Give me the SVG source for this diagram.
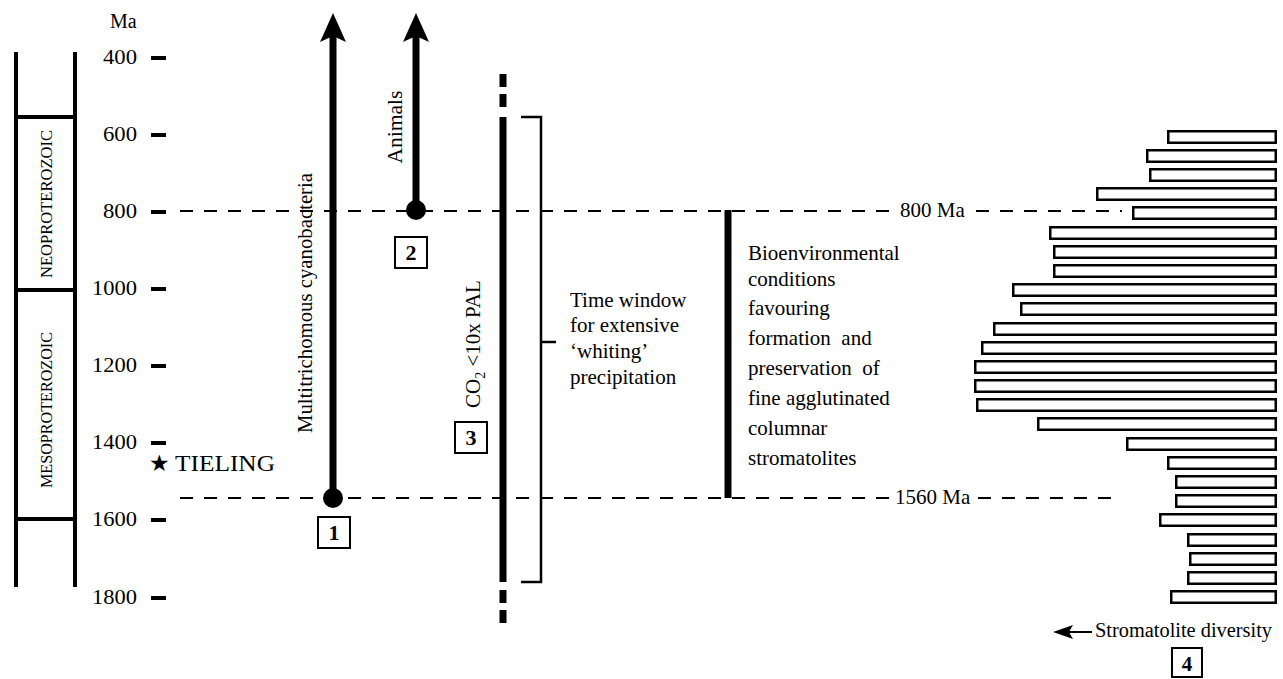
<svg xmlns="http://www.w3.org/2000/svg" width="1283" height="679" viewBox="0 0 1283 679">
<style>
text{font-family:"Liberation Serif","Times New Roman",serif;fill:#000}
.num{font-size:20px;text-anchor:end}
.lbl{font-size:21px}
.era{font-size:17px;text-anchor:middle}
.thin{stroke:#000;stroke-width:4;fill:none}
.tick{stroke:#000;stroke-width:4}
.dash{stroke:#000;stroke-width:2;stroke-dasharray:13 11;fill:none}
.bar{fill:#fff;stroke:#000;stroke-width:2.5}
.box{fill:#fff;stroke:#000;stroke-width:2}
.boxnum{font-size:22px;font-weight:bold;text-anchor:middle}
.shaft{stroke:#000;stroke-width:7}
</style>

<g id="timescale">
  <line class="thin" x1="16" y1="52" x2="16" y2="587"/>
  <line class="thin" x1="75" y1="52" x2="75" y2="587"/>
  <line class="thin" x1="16" y1="117" x2="75" y2="117"/>
  <line class="thin" x1="16" y1="290" x2="75" y2="290"/>
  <line class="thin" x1="16" y1="519" x2="75" y2="519"/>
  <text class="era" transform="translate(52,204) rotate(-90)" textLength="148" lengthAdjust="spacingAndGlyphs">NEOPROTEROZOIC</text>
  <text class="era" transform="translate(52,410) rotate(-90)" textLength="156" lengthAdjust="spacingAndGlyphs">MESOPROTEROZOIC</text>
</g>

<g id="axis">
  <text x="110" y="28" font-size="20">Ma</text>
  <text class="num" x="137" y="64" textLength="34" lengthAdjust="spacingAndGlyphs">400</text>
  <text class="num" x="137" y="141" textLength="34" lengthAdjust="spacingAndGlyphs">600</text>
  <text class="num" x="137" y="218" textLength="34" lengthAdjust="spacingAndGlyphs">800</text>
  <text class="num" x="137" y="295" textLength="45" lengthAdjust="spacingAndGlyphs">1000</text>
  <text class="num" x="137" y="372" textLength="45" lengthAdjust="spacingAndGlyphs">1200</text>
  <text class="num" x="137" y="449" textLength="45" lengthAdjust="spacingAndGlyphs">1400</text>
  <text class="num" x="137" y="526" textLength="45" lengthAdjust="spacingAndGlyphs">1600</text>
  <text class="num" x="137" y="604" textLength="45" lengthAdjust="spacingAndGlyphs">1800</text>
  <line class="tick" x1="151" y1="58" x2="166" y2="58"/>
  <line class="tick" x1="151" y1="135" x2="166" y2="135"/>
  <line class="tick" x1="151" y1="212" x2="166" y2="212"/>
  <line class="tick" x1="151" y1="289" x2="166" y2="289"/>
  <line class="tick" x1="151" y1="366" x2="166" y2="366"/>
  <line class="tick" x1="151" y1="443" x2="166" y2="443"/>
  <line class="tick" x1="151" y1="520" x2="166" y2="520"/>
  <line class="tick" x1="151" y1="598" x2="166" y2="598"/>
</g>

<g id="tieling">
  <text x="149" y="471" font-family="DejaVu Sans, sans-serif" font-size="23">★</text>
  <text x="175" y="471" font-size="23" textLength="100" lengthAdjust="spacingAndGlyphs">TIELING</text>
</g>

<g id="connectors">
  <line class="dash" x1="180" y1="211" x2="892" y2="211"/>
  <line class="dash" x1="976" y1="211" x2="1122" y2="211"/>
  <line class="dash" x1="180" y1="498" x2="892" y2="498"/>
  <line class="dash" x1="978" y1="498" x2="1122" y2="498"/>
  <line x1="1092" y1="632" x2="1068" y2="632" stroke="#000" stroke-width="2"/>
  <polygon points="1053,632 1073,625 1069,632 1073,639" fill="#000"/>
</g>

<g id="ref-labels">
  <text class="lbl" x="900" y="217">800 Ma</text>
  <text class="lbl" x="895" y="504">1560 Ma</text>
</g>

<g id="node-1">
  <line class="shaft" x1="333" y1="36" x2="333" y2="498"/>
  <polygon points="333,13 346,42 333,36 320,42" fill="#000"/>
  <circle cx="333" cy="498" r="10" fill="#000"/>
  <text class="lbl" transform="translate(312,303) rotate(-90)" text-anchor="middle" textLength="260" lengthAdjust="spacingAndGlyphs">Multitrichomous cyanobacteria</text>
  <rect class="box" x="318" y="517" width="32" height="31"/>
  <text class="boxnum" x="334" y="540">1</text>
</g>

<g id="node-2">
  <line class="shaft" x1="416" y1="36" x2="416" y2="210"/>
  <polygon points="416,13 429,42 416,36 403,42" fill="#000"/>
  <circle cx="416" cy="210" r="10" fill="#000"/>
  <text class="lbl" transform="translate(402,127) rotate(-90)" text-anchor="middle" textLength="73" lengthAdjust="spacingAndGlyphs">Animals</text>
  <rect class="box" x="395" y="237" width="32" height="31"/>
  <text class="boxnum" x="411" y="260">2</text>
</g>

<g id="node-3">
  <line class="shaft" x1="503" y1="74" x2="503" y2="87"/>
  <line class="shaft" x1="503" y1="94" x2="503" y2="107"/>
  <line class="shaft" x1="503" y1="117" x2="503" y2="582"/>
  <line class="shaft" x1="503" y1="590" x2="503" y2="603"/>
  <line class="shaft" x1="503" y1="610" x2="503" y2="623"/>
  <text class="lbl" transform="translate(480,408) rotate(-90)">CO<tspan font-size="14" dy="5">2</tspan><tspan dy="-5"> &lt;10x PAL</tspan></text>
  <rect class="box" x="455" y="422" width="32" height="31"/>
  <text class="boxnum" x="471" y="445">3</text>
</g>

<g id="whiting">
  <path d="M521,117 H541 V582 H521 M541,342 H556" fill="none" stroke="#000" stroke-width="2.5"/>
  <text class="lbl" x="570" y="307">Time window</text>
  <text class="lbl" x="570" y="332">for extensive</text>
  <text class="lbl" x="570" y="358">‘whiting’</text>
  <text class="lbl" x="570" y="384">precipitation</text>
</g>

<g id="bioenvironmental">
  <line class="shaft" x1="728" y1="210" x2="728" y2="498"/>
  <text class="lbl" x="748" y="260" font-size="20">Bioenvironmental</text>
  <text class="lbl" x="748" y="286" font-size="20">conditions</text>
  <text class="lbl" x="748" y="315" font-size="20">favouring</text>
  <text class="lbl" x="748" y="345" font-size="20" xml:space="preserve">formation  and</text>
  <text class="lbl" x="748" y="375" font-size="20" xml:space="preserve">preservation  of</text>
  <text class="lbl" x="748" y="405" font-size="20">fine agglutinated</text>
  <text class="lbl" x="748" y="435" font-size="20">columnar</text>
  <text class="lbl" x="748" y="465" font-size="20">stromatolites</text>
</g>

<g id="node-4">
  <rect class="bar" x="1168.25" y="131.25" width="107.5" height="11.5"/>
  <rect class="bar" x="1147.25" y="150.25" width="128.5" height="11.5"/>
  <rect class="bar" x="1150.25" y="169.25" width="125.5" height="11.5"/>
  <rect class="bar" x="1097.25" y="188.25" width="178.5" height="11.5"/>
  <rect class="bar" x="1133.25" y="207.25" width="142.5" height="11.5"/>
  <rect class="bar" x="1050.25" y="227.25" width="225.5" height="11.5"/>
  <rect class="bar" x="1054.25" y="246.25" width="221.5" height="11.5"/>
  <rect class="bar" x="1054.25" y="265.25" width="221.5" height="11.5"/>
  <rect class="bar" x="1013.25" y="284.25" width="262.5" height="11.5"/>
  <rect class="bar" x="1021.25" y="303.25" width="254.5" height="11.5"/>
  <rect class="bar" x="994.25" y="323.25" width="281.5" height="11.5"/>
  <rect class="bar" x="982.25" y="342.25" width="293.5" height="11.5"/>
  <rect class="bar" x="975.25" y="361.25" width="300.5" height="11.5"/>
  <rect class="bar" x="975.25" y="380.25" width="300.5" height="11.5"/>
  <rect class="bar" x="977.25" y="399.25" width="298.5" height="11.5"/>
  <rect class="bar" x="1038.25" y="418.25" width="237.5" height="11.5"/>
  <rect class="bar" x="1127.25" y="438.25" width="148.5" height="11.5"/>
  <rect class="bar" x="1168.25" y="457.25" width="107.5" height="11.5"/>
  <rect class="bar" x="1176.25" y="476.25" width="99.5" height="11.5"/>
  <rect class="bar" x="1176.25" y="495.25" width="99.5" height="11.5"/>
  <rect class="bar" x="1160.25" y="514.25" width="115.5" height="11.5"/>
  <rect class="bar" x="1188.25" y="534.25" width="87.5" height="11.5"/>
  <rect class="bar" x="1190.25" y="553.25" width="85.5" height="11.5"/>
  <rect class="bar" x="1188.25" y="572.25" width="87.5" height="11.5"/>
  <rect class="bar" x="1171.25" y="591.25" width="104.5" height="11.5"/>
  <text x="1095" y="637" font-size="20" textLength="177" lengthAdjust="spacingAndGlyphs">Stromatolite diversity</text>
  <rect class="box" x="1172" y="648" width="30" height="29"/>
  <text x="1187" y="671" font-family="Liberation Sans, Arial, sans-serif" font-size="21" font-weight="bold" text-anchor="middle">4</text>
</g>
</svg>
